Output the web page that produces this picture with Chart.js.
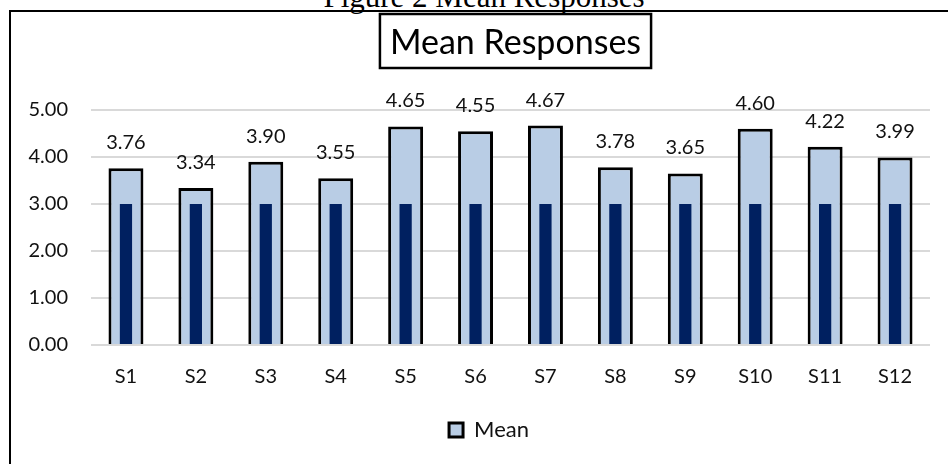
<!DOCTYPE html>
<html>
<head>
<meta charset="utf-8">
<script src="https://cdn.jsdelivr.net/npm/chart.js@4.4.0/dist/chart.umd.min.js"></script>
<style>
  body { margin: 0; background: #fff; }
  #wrap { position: relative; width: 948px; height: 464px; overflow: hidden; }
  #frame { position: absolute; left: 9px; top: 10px; width: 1000px; height: 600px;
           border-left: 2.5px solid #000; border-top: 2.5px solid #000; }
  #caption { position: absolute; left: 484px; top: -18px; transform: translateX(-50%);
             white-space: nowrap; font: 31px "Liberation Serif", serif; line-height: 30px; color: #000; }
  #chart { position: absolute; left: 0; top: 0; }
</style>
</head>
<body>
<div id="wrap">
  <div id="frame"></div>
  <div id="caption">Figure 2 Mean Responses</div>
  <canvas id="chart" width="948" height="464"></canvas>
</div>
<script>
// data
const categories = ["S1", "S2", "S3", "S4", "S5", "S6", "S7", "S8", "S9", "S10", "S11", "S12"];
const meanValues = [3.76, 3.34, 3.90, 3.55, 4.65, 4.55, 4.67, 3.78, 3.65, 4.60, 4.22, 3.99];
const midValues = [3, 3, 3, 3, 3, 3, 3, 3, 3, 3, 3, 3]; // dark inner bars
const yTickValues = [0, 1, 2, 3, 4, 5];
const chartTitle = "Mean Responses";

const FONT = "Lato, 'Open Sans', sans-serif";

// boxed title drawn above the plot
const boxTitle = {
  id: "boxTitle",
  afterDraw(chart) {
    const ctx = chart.ctx;
    const a = chart.chartArea;
    ctx.save();
    ctx.font = "34px " + FONT;
    const w = ctx.measureText(chartTitle).width;
    const cx = (a.left + a.right) / 2 + 5;
    ctx.fillStyle = "#000";
    ctx.textAlign = "center";
    ctx.textBaseline = "alphabetic";
    ctx.fillText(chartTitle, cx, 54);
    ctx.lineWidth = 2.5;
    ctx.strokeStyle = "#000";
    ctx.strokeRect(cx - w / 2 - 10, 14, w + 20, 54);
    ctx.restore();
  }
};

// value labels on top of the Mean bars
const valueLabels = {
  id: "valueLabels",
  afterDatasetsDraw(chart) {
    const ctx = chart.ctx;
    const meta = chart.getDatasetMeta(1);
    ctx.save();
    ctx.font = "20px " + FONT;
    ctx.fillStyle = "#111";
    ctx.textAlign = "center";
    ctx.textBaseline = "alphabetic";
    meta.data.forEach(function (bar, i) {
      ctx.fillText(meanValues[i].toFixed(2), bar.x, bar.y - 19);
    });
    ctx.restore();
  }
};

// legend sits a bit right of the canvas centre in the original
const legendShift = {
  id: "legendShift",
  afterLayout(chart) {
    if (chart.legend) {
      chart.legend.left += 24;
      chart.legend.right += 24;
    }
  }
};

new Chart(document.getElementById("chart"), {
  type: "bar",
  data: {
    labels: categories,
    datasets: [
      {
        label: "Base",
        data: midValues,
        backgroundColor: "#002060",
        borderWidth: 0,
        grouped: false,
        order: 0,
        barPercentage: 0.175,
        categoryPercentage: 1
      },
      {
        label: "Mean",
        data: meanValues,
        backgroundColor: "#B9CDE5",
        borderColor: "#000",
        borderWidth: 3,
        borderSkipped: "start",
        grouped: false,
        order: 1,
        barPercentage: 0.5,
        categoryPercentage: 1
      }
    ]
  },
  options: {
    responsive: false,
    animation: false,
    layout: { padding: { left: 0, right: 18, top: 110, bottom: 13 } },
    scales: {
      x: {
        grid: { display: false, drawTicks: false },
        border: { display: false },
        ticks: { font: { family: FONT, size: 20 }, color: "#111", padding: 20 },
        afterFit(scale) { scale.height = 64; }
      },
      y: {
        min: 0,
        max: 5,
        afterBuildTicks(scale) { scale.ticks = yTickValues.map(v => ({ value: v })); },
        grid: { color: "#d9d9d9", lineWidth: 2, drawTicks: false },
        border: { display: false },
        ticks: {
          font: { family: FONT, size: 20 },
          color: "#111",
          padding: 23,
          callback: v => Number(v).toFixed(2)
        },
        afterFit(scale) { scale.width = 91; }
      }
    },
    plugins: {
      legend: {
        position: "bottom",
        labels: {
          filter: item => item.text === "Mean",
          font: { family: FONT, size: 22 },
          color: "#111",
          boxWidth: 14,
          boxHeight: 14,
          padding: 10
        }
      },
      tooltip: { enabled: false }
    }
  },
  plugins: [boxTitle, valueLabels, legendShift]
});
</script>
</body>
</html>
